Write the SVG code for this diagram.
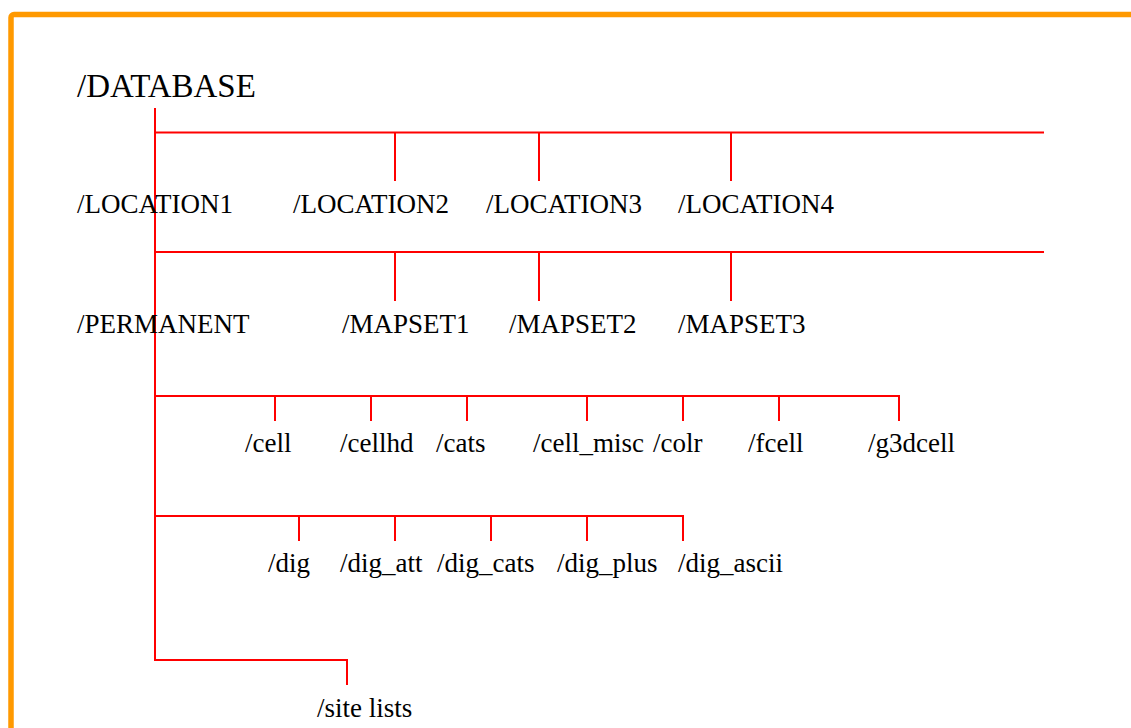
<svg xmlns="http://www.w3.org/2000/svg" width="1131" height="728" viewBox="0 0 1131 728">
<style>
.frame{fill:none;stroke:#FF9900;stroke-width:5.5}
.c{fill:none;stroke:#FF0000;stroke-width:2}
.t{font-family:'Liberation Serif','Times New Roman',Times,'DejaVu Serif',serif;font-size:27px;fill:#000}
.big{font-size:33px}
</style>
<rect width="1131" height="728" fill="#fff"/>
<rect class="frame" x="11" y="14.5" width="1140" height="740" rx="3"/>
<g id="connectors">
<path class="c" d="M155,108 V660 H347 V685"/>
<path class="c" d="M155,132.5 H1044 M395,132.5 V181 M539,132.5 V181 M731,132.5 V181"/>
<path class="c" d="M155,252 H1044 M395,252 V301 M539,252 V301 M731,252 V301"/>
<path class="c" d="M155,396 H899 V421 M275,396 V421 M371,396 V421 M467,396 V421 M587,396 V421 M683,396 V421 M779,396 V421"/>
<path class="c" d="M155,516 H683 V541 M299,516 V541 M395,516 V541 M491,516 V541 M587,516 V541"/>
</g>
<g class="t" font-family="Liberation Serif, serif">
<g id="database"><text class="big" x="77" y="97">/DATABASE</text></g>
<g id="location1"><text x="77" y="213">/LOCATION1</text></g>
<g id="location2"><text x="293" y="213">/LOCATION2</text></g>
<g id="location3"><text x="486" y="213">/LOCATION3</text></g>
<g id="location4"><text x="678" y="213">/LOCATION4</text></g>
<g id="permanent"><text x="77" y="333">/PERMANENT</text></g>
<g id="mapset1"><text x="342" y="333">/MAPSET1</text></g>
<g id="mapset2"><text x="509" y="333">/MAPSET2</text></g>
<g id="mapset3"><text x="678" y="333">/MAPSET3</text></g>
<g id="cell"><text x="245" y="452">/cell</text></g>
<g id="cellhd"><text x="340" y="452">/cellhd</text></g>
<g id="cats"><text x="436" y="452">/cats</text></g>
<g id="cell_misc"><text x="533" y="452">/cell_misc</text></g>
<g id="colr"><text x="653" y="452">/colr</text></g>
<g id="fcell"><text x="748" y="452">/fcell</text></g>
<g id="g3dcell"><text x="868" y="452">/g3dcell</text></g>
<g id="dig"><text x="268" y="572">/dig</text></g>
<g id="dig_att"><text x="340" y="572">/dig_att</text></g>
<g id="dig_cats"><text x="437" y="572">/dig_cats</text></g>
<g id="dig_plus"><text x="557" y="572">/dig_plus</text></g>
<g id="dig_ascii"><text x="678" y="572">/dig_ascii</text></g>
<g id="site_lists"><text x="317" y="717">/site lists</text></g>
</g>
</svg>
